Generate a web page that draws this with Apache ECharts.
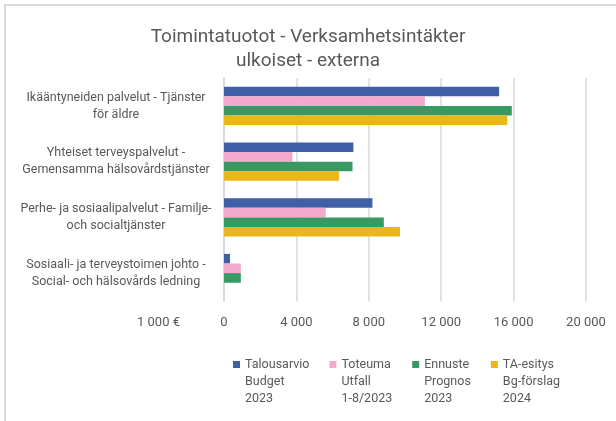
<!DOCTYPE html>
<html>
<head>
<meta charset="utf-8">
<script src="https://cdn.jsdelivr.net/npm/echarts@6/dist/echarts.min.js"></script>
<style>
  html, body { margin: 0; padding: 0; background: #fff; }
  #chart { width: 616px; height: 421px; }
</style>
</head>
<body>
<div id="chart"></div>
<script>
// Units: 1 000 €
const categories = [
  'Ikääntyneiden palvelut - Tjänster\nför äldre',
  'Yhteiset terveyspalvelut -\nGemensamma hälsovårdstjänster',
  'Perhe- ja sosiaalipalvelut - Familje-\noch socialtjänster',
  'Sosiaali- ja terveystoimen johto -\nSocial- och hälsovårds ledning'
];
const seriesNames = [
  'Talousarvio\nBudget\n2023',
  'Toteuma\nUtfall\n1-8/2023',
  'Ennuste\nPrognos\n2023',
  'TA-esitys\nBg-förslag\n2024'
];
const talousarvio2023 = [15200, 7150, 8200, 330];
const toteuma2023 = [11100, 3780, 5620, 930];
const ennuste2023 = [15900, 7100, 8830, 930];
const taEsitys2024 = [15650, 6350, 9720, 0];
const xTicks = { min: 0, max: 20000, interval: 4000 };

const colors = ['#3F5FA7', '#F3A9CE', '#389963', '#EDB618'];
const textColor = '#595959';
const font = 'Roboto';

const chart = echarts.init(document.getElementById('chart'), null, { renderer: 'canvas' });

const values = [talousarvio2023, toteuma2023, ennuste2023, taEsitys2024];

chart.setOption({
  animation: false,
  color: colors,
  textStyle: { fontFamily: font },
  title: {
    text: 'Toimintatuotot - Verksamhetsintäkter\nulkoiset - externa',
    left: 'center',
    top: 20,
    padding: [5, 2, 5, 7],
    textStyle: {
      fontFamily: font,
      fontSize: 19,
      fontWeight: 'normal',
      color: textColor,
      lineHeight: 24
    }
  },
  graphic: [{
    type: 'rect',
    shape: { x: 5, y: 5, width: 800, height: 600 },
    style: { fill: 'none', stroke: '#D9D9D9', lineWidth: 2 },
    silent: true,
    z: -10
  }],
  legend: {
    left: 233,
    top: 322,
    padding: 0,
    itemWidth: 7,
    itemHeight: 7,
    itemGap: 20,
    icon: 'rect',
    data: seriesNames,
    // two leading blank lines keep the marker level with the first text line
    formatter: name => '\n\n' + name,
    textStyle: {
      fontFamily: font,
      fontSize: 12.5,
      color: textColor,
      lineHeight: 17
    }
  },
  grid: { left: 224, top: 78, width: 362, height: 223, containLabel: false },
  xAxis: {
    type: 'value',
    min: xTicks.min,
    max: xTicks.max,
    interval: xTicks.interval,
    name: '1 000 €',
    nameLocation: 'start',
    nameGap: 44,
    nameTextStyle: {
      fontFamily: font,
      fontSize: 13,
      color: textColor,
      verticalAlign: 'top',
      lineHeight: 44
    },
    axisLine: { show: false },
    axisTick: { show: false },
    axisLabel: {
      margin: 15,
      fontSize: 13,
      color: textColor,
      formatter: v => String(v).replace(/\B(?=(\d{3})+(?!\d))/g, ' ')
    },
    splitLine: { lineStyle: { color: '#D9D9D9', width: 1.5 } }
  },
  yAxis: {
    type: 'category',
    inverse: true,
    data: categories,
    axisLine: { show: true, lineStyle: { color: '#D9D9D9', width: 1.5 } },
    axisTick: { show: false },
    axisLabel: {
      align: 'center',
      margin: 108,
      fontSize: 12.5,
      lineHeight: 17,
      color: textColor
    }
  },
  series: seriesNames.map((name, i) => ({
    name: name,
    type: 'bar',
    data: values[i],
    barGap: '0%',
    barCategoryGap: '31%',
    itemStyle: { color: colors[i] }
  }))
});
</script>
</body>
</html>
